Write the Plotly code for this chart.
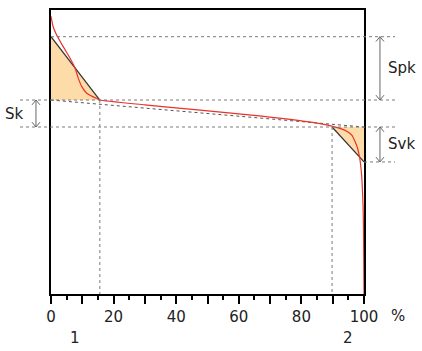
import plotly.graph_objects as go

# Abbott-Firestone (bearing area) curve
material_ratio = [0, 0.7, 1.8, 3.9, 6.1, 7.7, 8.7, 9.8, 11.4, 13.5, 15.1, 15.6,
                  30, 46, 67.3, 85.9, 89.7, 92.3, 94.5, 96.1, 97.1, 97.9, 98.5,
                  98.9, 99.3, 99.5, 99.7, 99.85, 100]
height = [9.78, 9.41, 9.12, 8.71, 8.30, 7.95, 7.60, 7.31, 7.07, 6.94, 6.86, 6.83,
          6.66, 6.49, 6.26, 6.00, 5.91, 5.83, 5.73, 5.59, 5.38, 5.15, 4.86,
          4.57, 4.10, 3.64, 3.11, 2.24, 0]

spk_top = 9.06
sk_top = 6.83
sk_bottom = 5.88
svk_bottom = 4.65
mr1 = 15.6
mr2 = 89.8

tick_values = [0, 10, 20, 30, 40, 50, 60, 70, 80, 90, 100]
tick_labels = ["0", "", "20", "", "40", "", "60", "", "80", "", "100"]
minor_values = [5, 15, 25, 35, 45, 55, 65, 75, 85, 95]

FILL = "#fddcaa"
DOT = "#7a7a7a"
FONT = "DejaVu Sans"

fig = go.Figure()

# triangles
fig.add_trace(go.Scatter(x=[0, 0, mr1, 0], y=[spk_top, sk_top, sk_top, spk_top],
                         fill="toself", fillcolor=FILL, mode="lines",
                         line=dict(width=0), hoverinfo="skip"))
fig.add_trace(go.Scatter(x=[mr2, 100, 100, mr2], y=[sk_bottom, sk_bottom, svk_bottom, sk_bottom],
                         fill="toself", fillcolor=FILL, mode="lines",
                         line=dict(width=0), hoverinfo="skip"))
# hypotenuses
fig.add_trace(go.Scatter(x=[0, mr1], y=[spk_top, sk_top], mode="lines",
                         line=dict(color="#333333", width=1.2)))
fig.add_trace(go.Scatter(x=[mr2, 100], y=[sk_bottom, svk_bottom], mode="lines",
                         line=dict(color="#333333", width=1.2)))
# equivalent straight line
fig.add_trace(go.Scatter(x=[0, 100], y=[sk_top, sk_bottom], mode="lines",
                         line=dict(color="#555555", width=1, dash="dot")))
# vertical dotted lines
fig.add_trace(go.Scatter(x=[mr1, mr1], y=[sk_top, 0], mode="lines",
                         line=dict(color=DOT, width=1, dash="dot")))
fig.add_trace(go.Scatter(x=[mr2, mr2], y=[sk_bottom, 0], mode="lines",
                         line=dict(color=DOT, width=1, dash="dot")))
# bearing curve
fig.add_trace(go.Scatter(x=material_ratio, y=height, mode="lines",
                         line=dict(color="#e8322a", width=1.2, shape="spline", smoothing=0.6),
                         cliponaxis=False))

shapes = []
def hline(y, x0, x1):
    shapes.append(dict(type="line", xref="paper", yref="y", x0=x0, x1=x1, y0=y, y1=y,
                       line=dict(color=DOT, width=1, dash="dot")))

hline(spk_top, 0, 1.099)
hline(sk_top, -0.099, 1.099)
hline(sk_bottom, -0.099, 1.099)
hline(svk_bottom, 1.0, 1.099)

AW = 0.0128
AH = 0.17
def arrow(xp, ytop, ybot):
    col = "#666666"
    shapes.append(dict(type="line", xref="paper", yref="y", x0=xp, x1=xp, y0=ytop, y1=ybot,
                       line=dict(color=col, width=1)))
    shapes.append(dict(type="path", xref="paper", yref="y",
                       path=f"M{xp-AW},{ytop-AH} L{xp},{ytop} L{xp+AW},{ytop-AH}",
                       line=dict(color=col, width=1)))
    shapes.append(dict(type="path", xref="paper", yref="y",
                       path=f"M{xp-AW},{ybot+AH} L{xp},{ybot} L{xp+AW},{ybot+AH}",
                       line=dict(color=col, width=1)))

arrow(1.051, spk_top, sk_top)
arrow(1.051, sk_bottom, svk_bottom)
arrow(-0.048, sk_top, sk_bottom)

tf = dict(family=FONT, size=15, color="#222222")
def label(text, xref, x, yref, y):
    return dict(text=text, xref=xref, yref=yref, x=x, y=y, showarrow=False, font=tf,
                xanchor="center", yanchor="middle")

annotations = [
    label("Spk", "paper", 1.121, "y", (spk_top + sk_top) / 2),
    label("Svk", "paper", 1.121, "y", (sk_bottom + svk_bottom) / 2),
    label("Sk", "paper", -0.118, "y", (sk_top + sk_bottom) / 2),
    label("%", "paper", 1.11, "paper", -0.077),
    label("1", "x", mr1 / 2, "paper", -0.154),
    label("2", "x", (mr2 + 100) / 2, "paper", -0.154),
]

fig.update_layout(
    width=422, height=351, autosize=False,
    margin=dict(l=51, r=58, t=8, b=57),
    plot_bgcolor="white", paper_bgcolor="white",
    showlegend=False,
    shapes=shapes, annotations=annotations,
    font=tf,
    xaxis=dict(range=[0, 100], tickmode="array", tickvals=tick_values, ticktext=tick_labels,
               ticks="outside", ticklen=8, tickwidth=1.5, tickcolor="black",
               minor=dict(tickmode="array", tickvals=minor_values, ticks="outside",
                          ticklen=4, tickwidth=1.5, tickcolor="black"),
               showline=True, mirror=True, linecolor="black", linewidth=2,
               showgrid=False, zeroline=False, layer="below traces", fixedrange=True),
    yaxis=dict(range=[0, 10], showticklabels=False, ticks="",
               showline=True, mirror=True, linecolor="black", linewidth=2,
               showgrid=False, zeroline=False, layer="below traces", fixedrange=True),
)

fig.write_html("out.html", config={"displayModeBar": False},
               post_script="document.body.style.margin='0';document.body.style.overflow='hidden';")
